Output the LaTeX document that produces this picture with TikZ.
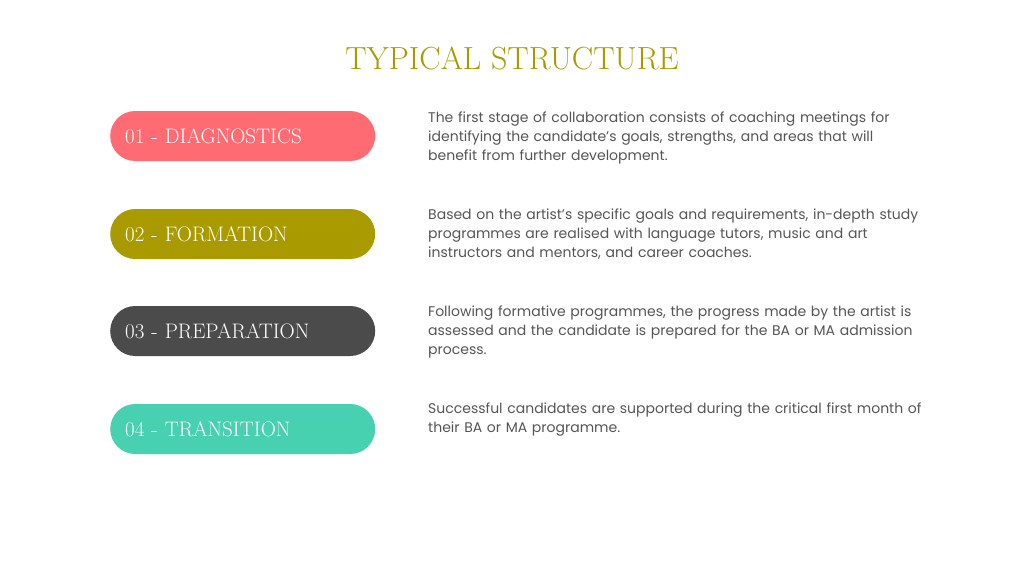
\documentclass[tikz,border=0pt]{standalone}
\usepackage{fontspec}
\setsansfont{Poppins}
\usetikzlibrary{positioning}
\definecolor{olive}{HTML}{A99A00}
\definecolor{coral}{HTML}{FF6B72}
\definecolor{slate}{HTML}{4B4B4B}
\definecolor{mint}{HTML}{48D1B0}
\definecolor{bodygray}{HTML}{555555}
\tikzstyle{pill} = [rectangle, rounded corners=25pt, minimum height=50pt, minimum width=265pt, text=white, font=\fontsize{21}{24}\selectfont, anchor=west, align=left, text width=235pt, inner xsep=15pt]
\tikzstyle{desc} = [anchor=north west, align=left, text width=540pt, inner sep=0pt, text=bodygray, font=\sffamily\fontsize{14}{19}\selectfont]
\begin{document}
\begin{tikzpicture}[x=1pt,y=-1pt]
    \useasboundingbox (0,0) rectangle (1024,576);
    \node[text=olive, font=\fontsize{32}{36}\selectfont] (title) at (512,58) {TYPICAL STRUCTURE};

    \node[pill, fill=coral, name=diag] at (110,136) {01 - DIAGNOSTICS};
    \node[pill, fill=olive, name=form] at (110,234) {02 - FORMATION};
    \node[pill, fill=slate, name=prep] at (110,331) {03 - PREPARATION};
    \node[pill, fill=mint, name=trans] at (110,429) {04 - TRANSITION};

    \node[desc] (diagtext) at (428,112) {The first stage of collaboration consists of coaching meetings for\\identifying the candidate’s goals, strengths, and areas that will\\benefit from further development.};
    \node[desc] (formtext) at (428,209) {Based on the artist’s specific goals and requirements, in-depth study\\programmes are realised with language tutors, music and art\\instructors and mentors, and career coaches.};
    \node[desc] (preptext) at (428,306) {Following formative programmes, the progress made by the artist is\\assessed and the candidate is prepared for the BA or MA admission\\process.};
    \node[desc] (transtext) at (428,403) {Successful candidates are supported during the critical first month of\\their BA or MA programme.};
\end{tikzpicture}
\end{document}
